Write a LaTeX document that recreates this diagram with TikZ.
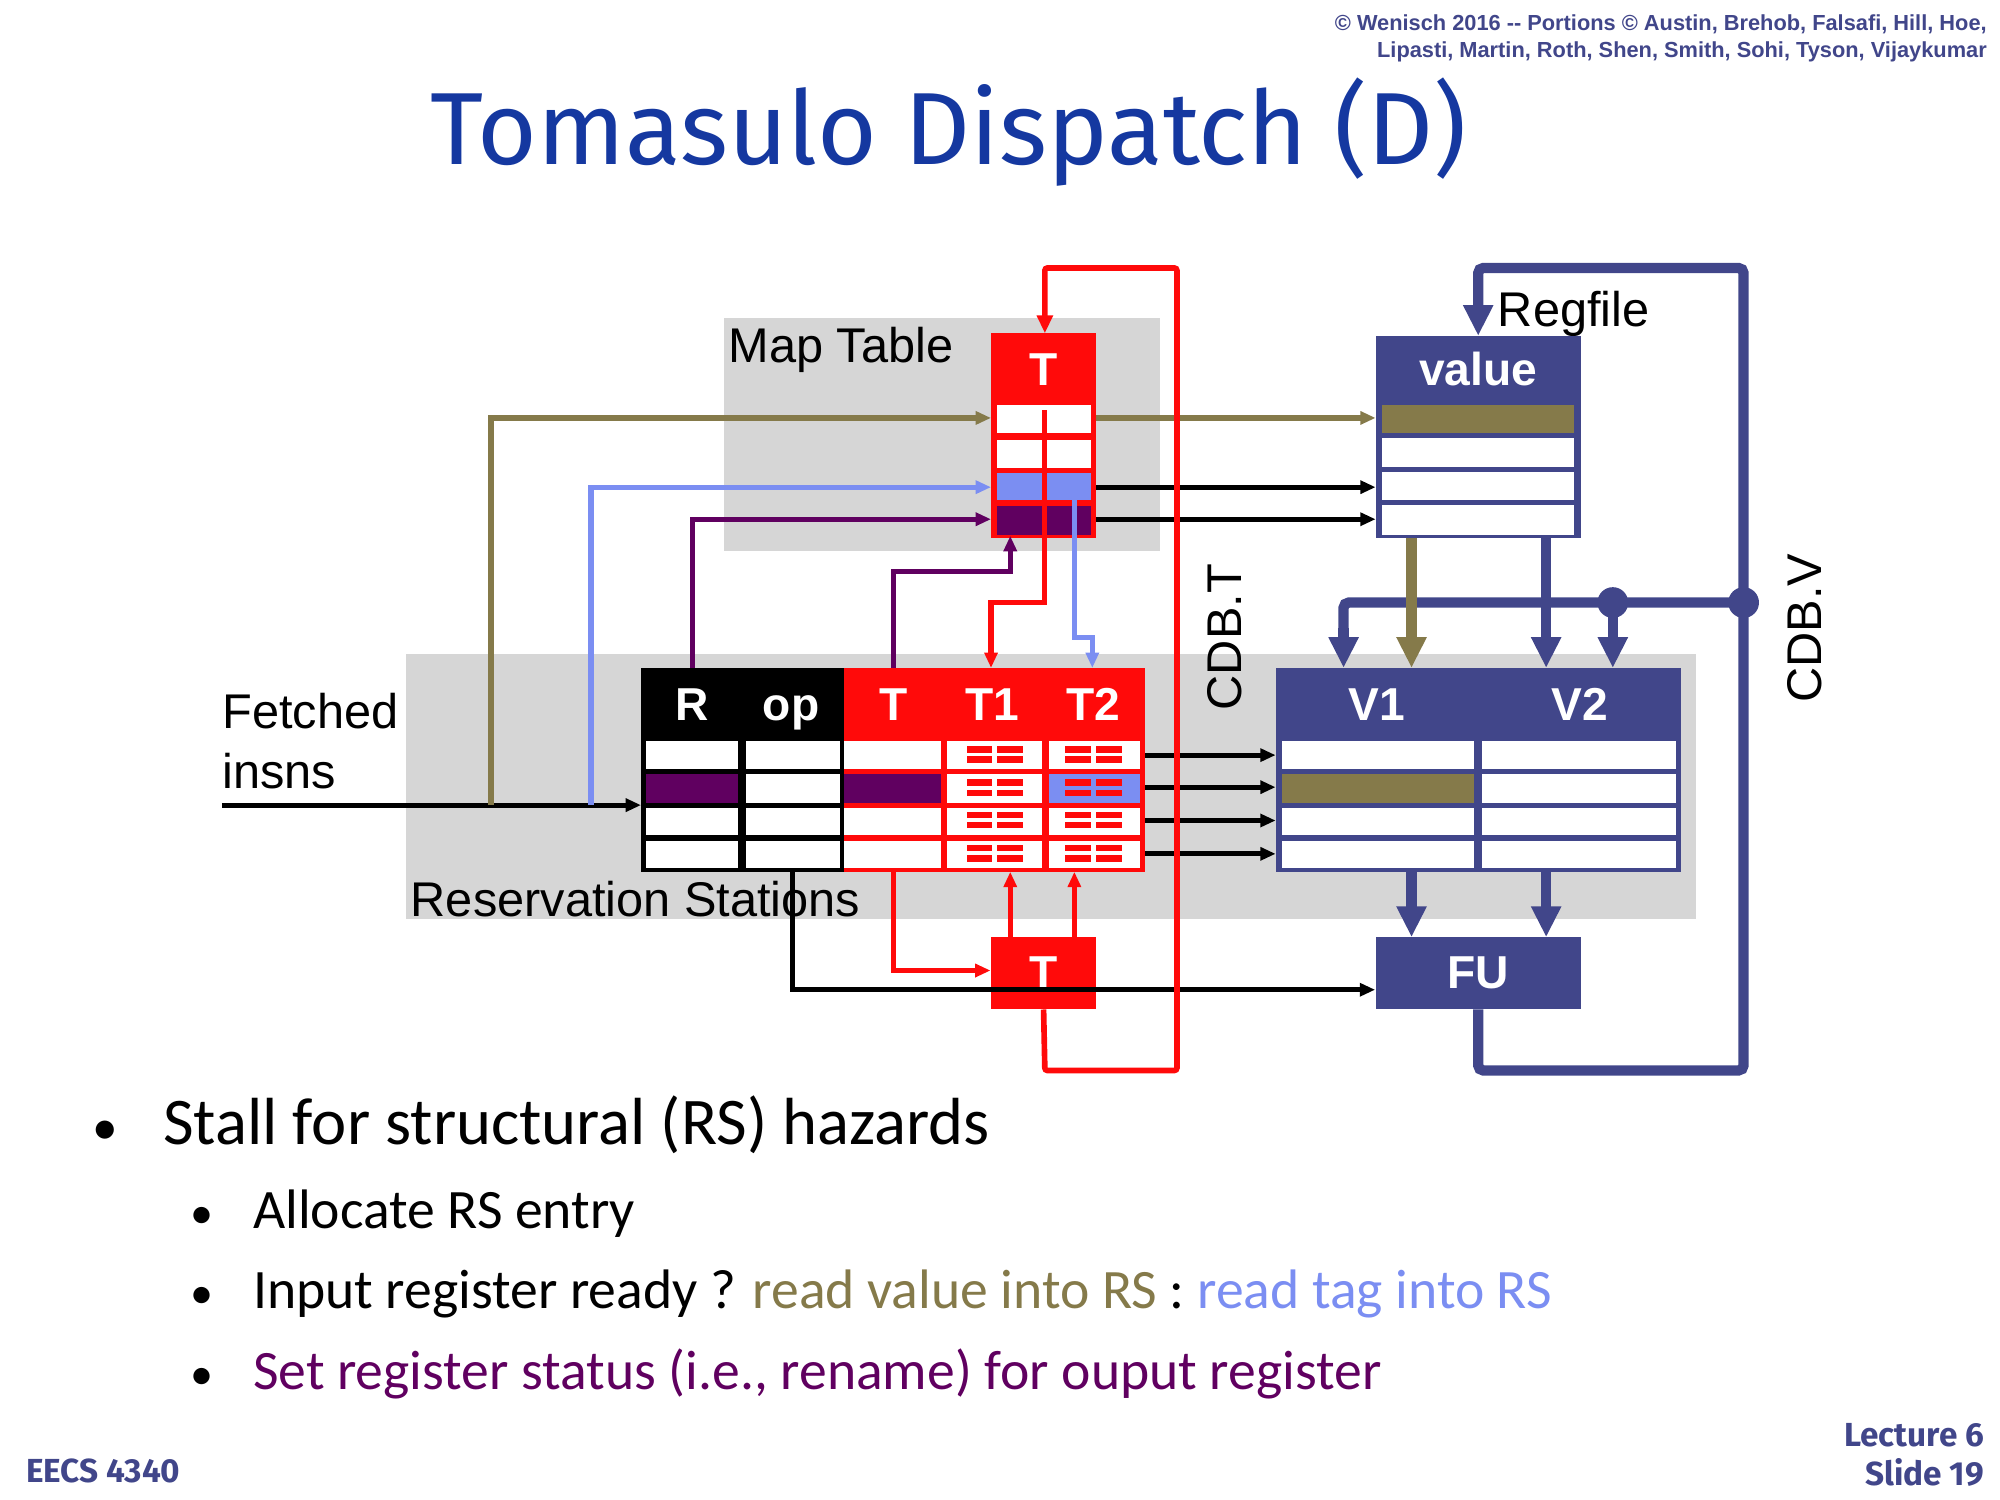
\documentclass[tikz,border=0pt]{standalone}
\usepackage{fontspec}
\setmainfont{Carlito}
\newfontfamily\arial{Liberation Sans}
\newfontfamily\titlefont{Fira Sans}
\usetikzlibrary{arrows.meta}
\definecolor{rred}{HTML}{FF0A0A}
\definecolor{navy}{HTML}{41468A}
\definecolor{olive}{HTML}{857A4A}
\definecolor{lblue}{HTML}{7B8EF2}
\definecolor{purp}{HTML}{600060}
\definecolor{gbox}{HTML}{D6D6D6}
\definecolor{tblue}{HTML}{1538A0}
\begin{document}
\begin{tikzpicture}[x=0.5pt,y=-0.5pt,
  lbl/.style={font=\arial\fontsize{19}{22}\selectfont,inner sep=0,anchor=base west},
  hdr/.style={font=\arial\bfseries\fontsize{18}{20}\selectfont,text=white,inner sep=0,anchor=base},
  ar/.style={-{Triangle[length=6pt,width=5pt]}},
  thin/.style={line width=2pt},
  big/.style={line width=4pt,navy},
  bigar/.style={big,-{Triangle[length=12pt,width=11pt]}}]
\useasboundingbox (0,0) rectangle (1560,1170);
% copyright & title
\node[font=\arial\bfseries\fontsize{8.5}{10.5}\selectfont,text=navy,align=right,anchor=north east,inner sep=0] (copy) at (1550,11) {\textcopyright{} Wenisch 2016 -- Portions \textcopyright{} Austin, Brehob, Falsafi, Hill, Hoe,\\Lipasti, Martin, Roth, Shen, Smith, Sohi, Tyson, Vijaykumar};
\node[font=\titlefont\fontsize{40}{46}\selectfont,text=tblue,inner sep=0] (title) at (740,103) {Tomasulo Dispatch (D)};
% gray boxes
\fill[gbox] (565,248) rectangle (905,430);
\fill[gbox] (317,510) rectangle (1323,717);
\node[lbl] (mtl) at (568,283) {Map Table};
\node[lbl] (rsl) at (320,715) {Reservation Stations};
\node[lbl] (fetch) at (173,568) {Fetched};
\node[lbl] (fetch2) at (173,615) {insns};
\node[lbl] (rfl) at (1168,255) {Regfile};
\node[font=\arial\fontsize{19}{22}\selectfont,rotate=90,inner sep=0] (cdbt) at (955,497) {CDB.T};
\node[font=\arial\fontsize{19}{22}\selectfont,rotate=90,inner sep=0] (cdbv) at (1408,490) {CDB.V};
% RS table
\fill[black] (500,521) rectangle (658,680);
\fill[rred] (658,521) rectangle (893,680);
\foreach \ya/\yb in {578/600,604/626,630/651,656/677}{
  \fill[white] (504,\ya) rectangle (576,\yb);
  \fill[white] (582,\ya) rectangle (655,\yb);
  \fill[white] (658,\ya) rectangle (734,\yb);
  \fill[white] (739,\ya) rectangle (813,\yb);
  \fill[white] (818,\ya) rectangle (889,\yb);}
\fill[purp] (504,604) rectangle (576,626);
\fill[purp] (658,604) rectangle (734,626);
\fill[lblue] (818,604) rectangle (889,626);
\foreach \cy in {589,615,640,666}{\foreach \cx in {776,853}{
  \fill[rred] (\cx-22,\cy-7) rectangle (\cx-2,\cy-2);
  \fill[rred] (\cx+2,\cy-7) rectangle (\cx+22,\cy-2);
  \fill[rred] (\cx-22,\cy+1) rectangle (\cx-2,\cy+6);
  \fill[rred] (\cx+2,\cy+1) rectangle (\cx+22,\cy+6);}}
\node[hdr] (hR) at (540,562) {R};
\node[hdr] (hop) at (617,562) {op};
\node[hdr] (hT) at (697,562) {T};
\node[hdr] (hT1) at (774,562) {T1};
\node[hdr] (hT2) at (853,562) {T2};
% V table
\fill[navy] (995,521) rectangle (1311,680);
\foreach \ya/\yb in {578/600,604/626,630/651,656/677}{
  \fill[white] (1000,\ya) rectangle (1150,\yb);
  \fill[white] (1156,\ya) rectangle (1307,\yb);}
\fill[olive] (1000,604) rectangle (1150,626);
\node[hdr] (hV1) at (1074,562) {V1};
\node[hdr] (hV2) at (1232,562) {V2};
% Regfile
\fill[navy] (1073,262) rectangle (1233,420);
\foreach \ya/\yb in {316/338,342/364,368/390,394/417}{\fill[white] (1078,\ya) rectangle (1228,\yb);}
\fill[olive] (1078,316) rectangle (1228,338);
\node[hdr] (hval) at (1153,301) {value};
% Map T
\fill[rred] (773,260) rectangle (855,420);
\fill[white] (778,316) rectangle (851,338);
\foreach \ya/\yb in {343/365,369/390,395/417}{
  \fill[white] (778,\ya) rectangle (813,\yb);
  \fill[white] (817,\ya) rectangle (851,\yb);}
\fill[lblue] (778,369) rectangle (813,390);\fill[lblue] (817,369) rectangle (851,390);
\fill[purp] (778,395) rectangle (813,417);\fill[purp] (817,395) rectangle (851,417);
\node[hdr] (hmt) at (814,301) {T};
% FU and bottom T
\node[fill=navy,minimum width=80pt,minimum height=28pt,inner sep=0,font=\arial\bfseries\fontsize{18}{20}\selectfont,text=white] (fu) at (1153,759) {FU};
\node[fill=rred,minimum width=41pt,minimum height=28pt,inner sep=0,font=\arial\bfseries\fontsize{18}{20}\selectfont,text=white] (bt) at (814,759) {T};
% coordinates
\coordinate (fin) at (173,628);
% fetched -> RS
\draw[thin,ar] (fin) -- (500,628);
\draw[thin,olive,ar] (383,628) |- (773,326);
\draw[thin,lblue,ar] (461,628) |- (773,380);
\draw[thin,purp,ar] (540,521) |- (773,405);
\draw[thin,purp,ar] (697,521) |- (788,446) -- (788,418);
\draw[thin,olive,ar] (855,326) -- (1073,326);
\draw[thin,ar] (855,380) -- (1073,380);
\draw[thin,ar] (855,405) -- (1073,405);
\draw[thin,rred,ar] (815,320) -- (815,470) -| (773,521);
\draw[thin,lblue,ar] (838,390) -- (838,497) -| (852,521);
\foreach \y in {589,614,640,666}{\draw[thin,ar] (893,\y) -- (995,\y);}
% bottom connections
\draw[thin,rred,ar] (697,680) |- (bt.west|-0,757);
\draw[thin,rred,ar] (788,731) -- (788,680);
\draw[thin,rred,ar] (838,731) -- (838,680);
\draw[thin,ar] (618,680) |- (fu.west|-0,772);
% CDB.T
\draw[line width=2.2pt,rred,-{Triangle[length=7pt,width=6pt]},rounded corners=1pt] (bt.south) -- (815,835) -- (918,835) -- (918,209) -- (815,209) -- (815,260);
% CDB.V
\draw[bigar,rounded corners=2pt] (fu.south) -- (1153,835) -- (1360,835) -- (1360,209) -- (1153,209) -- (1153,262);
\draw[big,rounded corners=2pt] (1360,470) -- (1048,470) -- (1048,500);
\draw[bigar] (1048,490) -- (1048,521);
\draw[bigar] (1258,470) -- (1258,521);
\fill[navy] (1258,470) circle (6pt) (1360,470) circle (6pt);
\draw[line width=4pt,olive,-{Triangle[length=12pt,width=11pt]}] (1101,420) -- (1101,521);
\draw[bigar] (1206,420) -- (1206,521);
\draw[bigar] (1101,680) -- (1101,731);
\draw[bigar] (1206,680) -- (1206,731);
% bullets
\node[font=\fontsize{20}{24}\selectfont,anchor=base west,inner sep=0] (d1) at (72,893) {\textbullet};
\node[font=\fontsize{26}{30}\selectfont,anchor=base west,inner sep=0] (b1) at (127,893) {Stall for structural (RS) hazards};
\foreach \nm/\y in {d2/958,d3/1021,d4/1084}{\node[font=\fontsize{18}{22}\selectfont,anchor=base west,inner sep=0] (\nm) at (148,\y) {\textbullet};}
\node[font=\fontsize{21.7}{26}\selectfont,anchor=base west,inner sep=0] (b2) at (197,958) {Allocate RS entry};
\node[font=\fontsize{21.7}{26}\selectfont,anchor=base west,inner sep=0] (b3) at (197,1021) {Input register ready ? \textcolor{olive}{read value into RS} : \textcolor{lblue}{read tag into RS}};
\node[font=\fontsize{21.7}{26}\selectfont,anchor=base west,inner sep=0] (b4) at (197,1084) {\textcolor{purp}{Set register status (i.e., rename) for ouput register}};
% footer
\node[font=\titlefont\bfseries\fontsize{13}{15}\selectfont,text=navy,anchor=base west,inner sep=0] (eecs) at (20,1156) {EECS 4340};
\node[font=\titlefont\bfseries\fontsize{13}{15}\selectfont,text=navy,align=right,anchor=north east,inner sep=0] (lec) at (1548,1110) {Lecture 6\\Slide 19};
\end{tikzpicture}
\end{document}
